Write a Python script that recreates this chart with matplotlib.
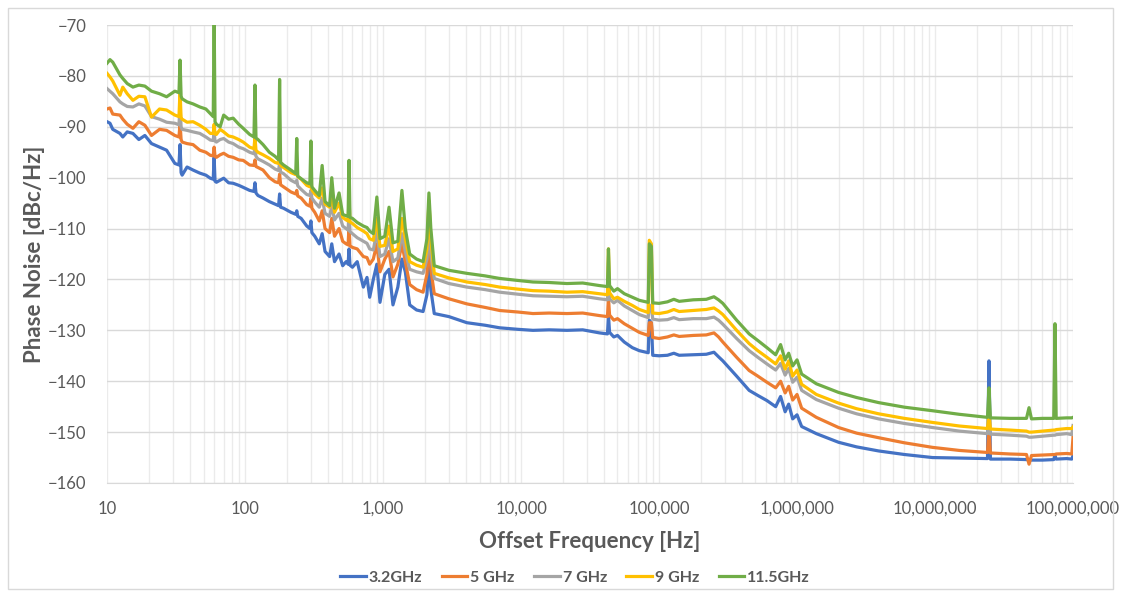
import numpy as np
import matplotlib
matplotlib.use("Agg")
import matplotlib.pyplot as plt
from matplotlib.ticker import FuncFormatter, FixedLocator, MultipleLocator
from matplotlib.patches import Rectangle

plt.rcParams['font.family'] = ['Lato', 'DejaVu Sans']

labels = ["3.2GHz", "5 GHz", "7 GHz", "9 GHz", "11.5GHz"]
colors = ["#4472C4", "#ED7D31", "#A5A5A5", "#FFC000", "#70AD47"]
decades = [10, 100, 1000, 10000, 100000, 1000000, 10000000, 100000000]

# offset frequency [Hz] and phase noise [dBc/Hz]
# columns: 11.5GHz, 9 GHz, 7 GHz, 5 GHz, 3.2GHz
rows = [
    (10,    -77.5, -79.5, -82.5, -86.5, -89.0),
    (10.5,  -76.8, -80.2, -83.0, -86.3, -89.3),
    (11,    -77.3, -81.0, -83.5, -87.5, -90.5),
    (12.4,  -79.8, -83.8, -85.1, -87.7, -91.3),
    (13,    -80.5, -82.2, -85.5, -88.5, -92.0),
    (14,    -81.5, -83.5, -86.0, -89.5, -91.0),
    (15.4,  -82.2, -84.8, -86.1, -90.3, -91.3),
    (17,    -81.8, -84.0, -85.5, -89.0, -92.5),
    (18.8,  -82.0, -84.1, -85.9, -89.7, -91.7),
    (21,    -83.0, -88.1, -88.0, -91.7, -93.3),
    (24,    -83.5, -86.5, -88.5, -90.5, -94.0),
    (27,    -84.1, -86.7, -89.1, -90.7, -94.6),
    (31,    -83.0, -87.7, -89.3, -91.7, -97.2),
    (33.2,  -83.3, -88.0, -89.6, -92.0, -97.5),
    (33.8,  -76.9, -82.8, -86.0, -89.3, -93.5),
    (34.4,  -84.0, -88.3, -90.0, -92.5, -99.0),
    (35,    -84.5, -88.5, -90.5, -93.0, -99.5),
    (38,    -85.1, -89.1, -90.7, -93.3, -97.9),
    (42,    -85.5, -89.0, -91.0, -93.5, -98.5),
    (47,    -86.1, -89.7, -91.3, -94.6, -99.1),
    (52,    -86.5, -90.5, -92.0, -95.0, -99.5),
    (56,    -87.4, -91.3, -92.6, -95.6, -100.1),
    (58.8,  -88.0, -91.3, -92.7, -95.7, -100.3),
    (59.7,  -68.0, -89.5, -91.0, -94.0, -96.0),
    (60.6,  -89.0, -91.4, -92.8, -95.8, -100.7),
    (62,    -89.5, -91.5, -93.0, -96.0, -100.9),
    (66,    -90.0, -90.5, -92.5, -95.5, -100.5),
    (70,    -87.7, -91.0, -92.3, -95.2, -100.1),
    (76,    -88.5, -91.8, -93.0, -95.8, -101.0),
    (82,    -88.3, -92.0, -93.3, -96.0, -101.1),
    (90,    -89.5, -92.5, -94.0, -96.5, -101.5),
    (97,    -90.3, -93.0, -94.3, -96.6, -101.9),
    (108,   -91.5, -94.0, -95.0, -97.5, -102.5),
    (116,   -92.0, -94.3, -95.3, -97.6, -102.7),
    (118,   -81.8, -92.0, -94.0, -96.5, -101.0),
    (120,   -92.2, -94.6, -95.8, -97.8, -103.0),
    (124,   -92.5, -95.0, -96.3, -98.0, -103.5),
    (135,   -93.5, -95.5, -96.8, -98.5, -104.0),
    (150,   -95.0, -96.2, -97.5, -100.0, -104.7),
    (165,   -95.8, -97.0, -98.3, -100.8, -105.2),
    (175,   -96.5, -97.2, -98.6, -101.0, -105.5),
    (178,   -80.7, -95.4, -97.0, -99.3, -103.2),
    (181,   -97.0, -97.6, -98.9, -101.4, -105.8),
    (190,   -97.5, -98.0, -99.2, -101.8, -106.0),
    (215,   -98.5, -99.0, -100.5, -102.8, -106.8),
    (233,   -99.2, -99.4, -101.0, -103.2, -107.2),
    (237,   -92.3, -98.5, -100.5, -102.5, -106.5),
    (241,   -99.7, -99.8, -101.6, -103.6, -107.6),
    (255,   -100.2, -100.3, -102.3, -104.0, -108.0),
    (280,   -101.0, -101.5, -103.3, -105.3, -109.5),
    (295,   -101.2, -101.8, -103.5, -105.6, -110.0),
    (300,   -92.8, -100.0, -102.5, -104.0, -108.5),
    (305,   -101.8, -102.4, -104.0, -106.0, -110.8),
    (320,   -102.5, -103.2, -104.8, -106.8, -111.5),
    (345,   -103.5, -104.0, -105.8, -108.5, -113.0),
    (362,   -97.6, -102.0, -104.0, -106.5, -111.0),
    (380,   -104.7, -105.2, -107.0, -110.0, -114.5),
    (410,   -105.5, -105.8, -107.6, -110.8, -115.5),
    (425,   -100.0, -103.5, -105.5, -108.0, -113.0),
    (445,   -106.0, -106.8, -108.3, -111.5, -116.5),
    (480,   -103.0, -105.0, -107.0, -110.0, -115.0),
    (510,   -107.2, -107.8, -109.5, -112.5, -117.3),
    (540,   -107.5, -108.3, -110.0, -113.0, -116.5),
    (558,   -107.6, -108.5, -110.3, -113.2, -117.0),
    (567,   -96.6, -104.0, -106.5, -109.5, -114.0),
    (576,   -107.8, -108.7, -110.6, -113.4, -117.2),
    (600,   -108.0, -109.0, -111.0, -113.7, -117.6),
    (650,   -108.8, -109.8, -111.8, -114.0, -116.5),
    (720,   -109.5, -110.5, -112.5, -115.5, -121.5),
    (765,   -109.8, -111.0, -112.9, -115.7, -119.6),
    (800,   -110.5, -112.0, -114.0, -117.0, -123.5),
    (850,   -111.0, -112.3, -114.2, -116.0, -120.0),
    (902,   -103.8, -108.0, -110.5, -113.0, -117.0),
    (950,   -112.0, -113.5, -115.5, -118.5, -124.5),
    (1030,  -111.5, -113.3, -115.0, -116.0, -119.0),
    (1105,  -105.8, -109.5, -112.0, -114.5, -118.0),
    (1180,  -112.8, -114.5, -116.5, -119.5, -125.0),
    (1280,  -112.5, -114.0, -115.8, -117.0, -121.5),
    (1370,  -102.5, -108.0, -111.0, -113.0, -116.0),
    (1450,  -110.0, -112.0, -114.5, -116.5, -118.5),
    (1560,  -115.0, -116.5, -118.0, -121.0, -125.0),
    (1750,  -116.0, -117.2, -118.5, -122.0, -126.0),
    (1950,  -116.5, -117.6, -118.8, -122.5, -126.3),
    (2080,  -112.0, -114.0, -116.0, -119.0, -123.0),
    (2150,  -103.0, -104.5, -108.0, -112.0, -116.5),
    (2220,  -110.0, -112.0, -115.0, -118.0, -122.0),
    (2350,  -117.3, -118.8, -119.8, -122.8, -126.7),
    (3000,  -118.2, -119.7, -120.8, -123.8, -127.3),
    (4050,  -118.8, -120.5, -121.5, -124.8, -128.5),
    (5500,  -119.3, -121.0, -122.0, -125.5, -129.0),
    (7000,  -119.8, -121.5, -122.5, -126.1, -129.5),
    (9500,  -120.2, -121.9, -122.9, -126.4, -129.8),
    (12200, -120.5, -122.2, -123.2, -126.7, -130.0),
    (16000, -120.6, -122.3, -123.3, -126.6, -129.9),
    (21500, -120.8, -122.5, -123.4, -126.7, -130.0),
    (28000, -120.7, -122.4, -123.3, -126.6, -129.9),
    (37000, -121.2, -122.8, -123.8, -127.1, -130.5),
    (42300, -121.4, -123.0, -124.0, -127.3, -130.7),
    (43000, -114.0, -114.0, -120.0, -123.5, -127.0),
    (43800, -121.2, -122.6, -123.8, -127.0, -130.4),
    (47000, -122.3, -123.8, -124.6, -128.0, -131.3),
    (50000, -121.8, -123.5, -124.1, -127.7, -131.0),
    (56000, -122.8, -124.3, -125.2, -128.7, -132.3),
    (64000, -123.5, -125.1, -126.1, -129.6, -133.4),
    (72000, -124.1, -125.9, -126.9, -130.4, -134.0),
    (83500, -124.5, -126.5, -127.5, -131.0, -134.4),
    (85000, -113.0, -112.3, -125.0, -128.5, -128.0),
    (88000, -113.5, -113.0, -125.5, -128.5, -128.5),
    (90000, -124.6, -126.6, -127.8, -131.4, -134.9),
    (100000, -124.7, -126.7, -128.0, -131.6, -135.0),
    (115000, -124.4, -126.4, -127.9, -131.3, -134.9),
    (128000, -123.9, -125.9, -127.5, -130.9, -134.5),
    (140000, -124.3, -126.3, -127.9, -131.2, -134.9),
    (177000, -124.0, -126.1, -127.7, -131.0, -134.8),
    (220000, -123.9, -125.9, -127.7, -130.9, -134.7),
    (250000, -123.4, -125.6, -127.4, -130.5, -134.3),
    (270000, -124.0, -126.2, -128.0, -131.3, -135.2),
    (290000, -124.7, -126.9, -128.8, -132.3, -136.0),
    (365000, -128.0, -130.0, -131.6, -135.3, -139.0),
    (450000, -130.7, -132.6, -134.0, -137.9, -141.8),
    (520000, -132.0, -134.0, -135.3, -139.0, -142.8),
    (605000, -133.4, -135.3, -136.6, -140.2, -143.8),
    (700000, -134.8, -136.6, -137.8, -141.3, -145.0),
    (760000, -132.8, -135.0, -136.5, -140.0, -143.0),
    (820000, -135.8, -137.6, -138.8, -142.3, -146.0),
    (870000, -134.5, -136.0, -137.5, -141.0, -144.5),
    (930000, -137.0, -139.0, -140.2, -143.7, -147.4),
    (1000000, -135.8, -137.8, -139.2, -142.6, -146.6),
    (1080000, -138.6, -140.6, -141.8, -145.3, -148.9),
    (1380000, -140.5, -142.6, -143.6, -147.1, -150.3),
    (2000000, -142.2, -144.3, -145.3, -149.1, -152.0),
    (2700000, -143.2, -145.4, -146.4, -150.2, -152.9),
    (3900000, -144.2, -146.4, -147.4, -151.1, -153.7),
    (6000000, -145.1, -147.3, -148.3, -152.1, -154.4),
    (9600000, -145.8, -148.1, -149.1, -153.0, -155.0),
    (15000000, -146.5, -148.8, -149.8, -153.6, -155.1),
    (24000000, -147.1, -149.3, -150.3, -154.0, -155.2),
    (24600000, -141.3, -146.0, -149.0, -149.5, -136.0),
    (25200000, -147.2, -149.4, -150.4, -154.1, -155.3),
    (35000000, -147.3, -149.6, -150.6, -154.3, -155.3),
    (46000000, -147.3, -149.8, -150.8, -154.4, -155.4),
    (48000000, -145.2, -150.0, -151.0, -156.3, -155.5),
    (50000000, -147.4, -150.0, -151.0, -154.6, -155.5),
    (60000000, -147.3, -149.8, -150.8, -154.5, -155.5),
    (72500000, -147.3, -149.6, -150.6, -154.4, -155.4),
    (74000000, -128.7, -149.6, -150.6, -154.4, -154.6),
    (75500000, -147.3, -149.5, -150.5, -154.3, -155.3),
    (90000000, -147.2, -149.3, -150.3, -154.2, -155.2),
    (98000000, -147.2, -149.3, -150.5, -154.3, -155.3),
    (100000000, -147.1, -149.0, -148.7, -151.0, -154.6),
]

freq = [r[0] for r in rows]
pn_11_5 = [r[1] for r in rows]
pn_9 = [r[2] for r in rows]
pn_7 = [r[3] for r in rows]
pn_5 = [r[4] for r in rows]
pn_3_2 = [r[5] for r in rows]
series = [pn_3_2, pn_5, pn_7, pn_9, pn_11_5]

fig = plt.figure(figsize=(11.21, 5.96), dpi=100)
ax = fig.add_axes([0.0955, 0.1896, 0.8617, 0.7684])

for vals, c, lab in zip(series, colors, labels):
    ax.plot(freq, vals, color=c, lw=2.3, label=lab, solid_joinstyle='round')

ax.set_xscale('log')
ax.set_xlim(10, 1e8)
ax.set_ylim(-160, -70)
ax.yaxis.set_major_locator(MultipleLocator(10))
ax.xaxis.set_major_locator(FixedLocator(decades))
minors = [d * k for d in decades[:-1] for k in range(2, 10)]
ax.xaxis.set_minor_locator(FixedLocator(minors))
ax.xaxis.set_major_formatter(FuncFormatter(lambda v, p: f"{int(round(v)):,}"))
ax.xaxis.set_minor_formatter(FuncFormatter(lambda v, p: ""))

ax.grid(True, axis='y', which='major', color='#d9d9d9', lw=1.0)
ax.grid(True, axis='x', which='both', color='#ebebeb', lw=1.0)
ax.set_axisbelow(True)
for s in ['top', 'right', 'left']:
    ax.spines[s].set_visible(False)
ax.spines['bottom'].set_color('#d9d9d9')

ax.tick_params(axis='both', which='both', length=0, colors='#595959', labelsize=12)
ax.tick_params(axis='y', pad=15)
ax.tick_params(axis='x', pad=13)

ax.set_ylabel("Phase Noise [dBc/Hz]", fontsize=16, fontweight='bold', color='#595959', labelpad=2)
ax.set_xlabel("Offset Frequency [Hz]", fontsize=16, fontweight='bold', color='#595959', labelpad=10)

leg = fig.legend(loc='center', bbox_to_anchor=(0.513, 0.031), ncol=5, frameon=False,
                 handlelength=1.6, handletextpad=0.2, columnspacing=1.2,
                 prop={'size': 11.5, 'weight': 'bold'})
for t in leg.get_texts():
    t.set_color('#595959')

fig.patches.append(Rectangle((0.007, 0.012), 0.986, 0.975, transform=fig.transFigure,
                             fill=False, edgecolor='#d9d9d9', lw=1.0))

fig.savefig("out.png", dpi=100)
